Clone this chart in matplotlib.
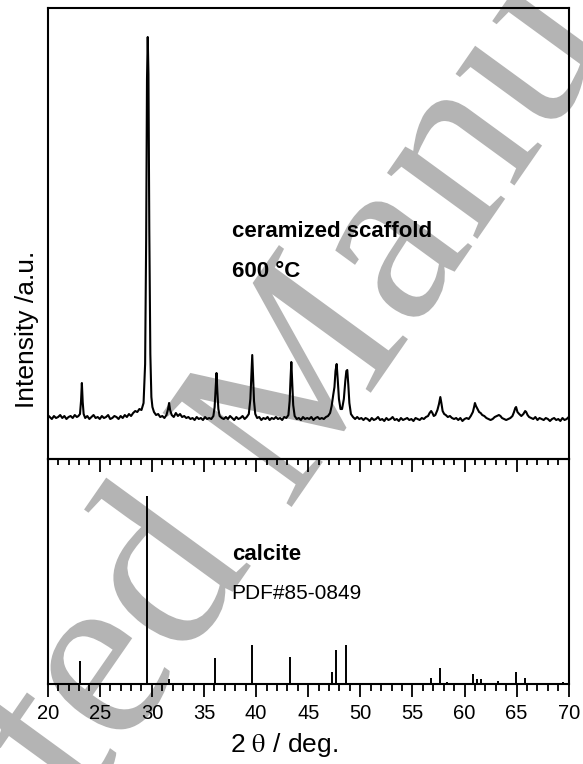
import matplotlib
matplotlib.use("Agg")
from matplotlib import pyplot as plt
from matplotlib import font_manager
from matplotlib.ticker import MultipleLocator
from matplotlib.textpath import TextPath
from matplotlib.patches import PathPatch
from matplotlib.font_manager import FontProperties
from matplotlib.transforms import Affine2D, IdentityTransform

plt.rcParams['font.family'] = ['Liberation Sans', 'DejaVu Sans']
plt.rcParams['mathtext.fontset'] = 'stix'

# measured pattern of the ceramized scaffold (2 theta, counts in a.u.)
two_theta = [
    20.0, 20.2, 20.4, 20.6, 20.8, 21.0, 21.2, 21.4, 21.6, 21.8, 22.0, 22.2, 22.4, 22.6, 22.8,
    22.95, 23.1, 23.2, 23.28, 23.36, 23.45, 23.6,
    23.8, 24.0, 24.2, 24.4, 24.6, 24.8, 25.0, 25.2, 25.4, 25.6, 25.8, 26.0, 26.2, 26.4, 26.6,
    26.8, 27.0, 27.2, 27.4, 27.6, 27.8, 28.0, 28.2,
    28.4, 28.6, 28.8, 29.0, 29.2, 29.35, 29.45, 29.53, 29.6, 29.67, 29.75, 29.85, 29.95, 30.05,
    30.2, 30.4, 30.6, 30.8, 31.0, 31.2, 31.4, 31.55, 31.65, 31.75, 31.9, 32.1, 32.3, 32.5,
    32.7, 32.9, 33.1, 33.3, 33.5, 33.7, 33.9, 34.1, 34.3, 34.5, 34.7, 34.9, 35.1, 35.3, 35.5,
    35.7, 35.9, 36.02, 36.12, 36.2, 36.28, 36.38, 36.5, 36.7, 36.9, 37.1, 37.3, 37.5, 37.7,
    37.9, 38.1, 38.3, 38.5, 38.7, 38.9, 39.1, 39.3, 39.45, 39.55, 39.63, 39.71, 39.8, 39.92,
    40.1, 40.3, 40.5, 40.7, 40.9, 41.1, 41.3, 41.5, 41.7, 41.9, 42.1, 42.3, 42.5, 42.7, 42.9,
    43.1, 43.22, 43.3, 43.38, 43.46, 43.56, 43.7, 43.9, 44.1, 44.3, 44.5, 44.7, 44.9, 45.1,
    45.3, 45.5, 45.7, 45.9, 46.1, 46.3, 46.5, 46.7, 46.9, 47.1, 47.25, 47.4, 47.52, 47.62,
    47.73, 47.83, 47.95, 48.1, 48.25, 48.42, 48.56, 48.66, 48.75, 48.85, 48.95, 49.1, 49.3,
    49.5, 49.7,
    49.9, 50.1, 50.3, 50.5, 50.7, 50.9, 51.1, 51.3, 51.5, 51.7, 51.9, 52.1, 52.3, 52.5, 52.7,
    52.9, 53.1, 53.3, 53.5, 53.7, 53.9, 54.1, 54.3, 54.5, 54.7, 54.9, 55.1, 55.3, 55.5, 55.7,
    55.9, 56.1, 56.3,
    56.5, 56.65, 56.8, 56.92, 57.05, 57.2, 57.4, 57.55, 57.68, 57.78, 57.9, 58.05, 58.2, 58.4,
    58.6, 58.8, 59.0, 59.2, 59.4, 59.6, 59.8, 60.0, 60.2, 60.4, 60.6, 60.8, 60.92, 61.0, 61.1,
    61.25, 61.4, 61.55, 61.7, 61.9, 62.1, 62.3, 62.5, 62.7, 62.9, 63.1, 63.3, 63.45, 63.6,
    63.8, 64.0, 64.2, 64.4, 64.6, 64.75, 64.87, 64.95, 65.08, 65.25, 65.45, 65.65, 65.82,
    65.92, 66.05, 66.2, 66.4, 66.6, 66.8, 67.0, 67.2, 67.4, 67.6, 67.8, 68.0, 68.2, 68.4,
    68.6, 68.8, 69.0, 69.2, 69.4, 69.6, 69.8, 70.0]
counts = [
    44, 42, 40, 43, 41, 42, 44, 41, 43, 40, 42, 43, 41, 44, 42,
    43, 45, 58, 76, 57, 45, 41,
    43, 40, 42, 44, 41, 42, 40, 43, 41, 42, 44, 40, 41, 43, 42,
    40, 43, 41, 44, 42, 45, 43, 46,
    48, 47, 50, 49, 56, 95, 220, 380, 422, 385, 230, 105, 62, 52,
    47, 44, 45, 42, 43, 41, 44, 50, 56, 49, 44, 42, 46, 43,
    45, 42, 43, 41, 42, 40, 41, 39, 42, 40, 41, 39, 42, 40, 41,
    40, 43, 52, 70, 86, 68, 50, 43, 41, 40, 42, 40, 43, 41,
    39, 42, 40, 41, 43, 40, 42, 45, 60, 84, 104, 83, 58, 45,
    41, 42, 39, 41, 40, 42, 39, 41, 40, 42, 40, 41, 39, 42, 41,
    44, 58, 79, 97, 78, 54, 43, 40, 41, 39, 42, 40, 41, 40,
    42, 39, 41, 42, 40, 41, 40, 42, 43, 46, 53, 64, 72, 88,
    95, 80, 60, 50, 50, 60, 78, 88, 89, 74, 56, 45, 42,
    40, 42,
    40, 41, 39, 41, 40, 38, 41, 39, 40, 42, 39, 40, 38, 41, 39,
    40, 42, 39, 40, 38, 41, 39, 40, 41, 39, 40, 38, 41, 40, 39,
    41, 40, 42,
    43, 46, 48, 46, 43, 44, 49, 55, 62, 56, 48, 45, 44, 42,
    43, 41, 40, 41, 39, 41, 38, 40, 41, 40, 43, 47, 52, 56, 53,
    50, 47, 46, 44, 43, 41, 40, 39, 40, 42, 43, 44, 43, 41,
    40, 39, 40, 41, 43, 47, 51, 52, 47, 45, 43, 45, 48,
    47, 44, 42, 41, 40, 42, 39, 41, 40, 39, 41, 40, 38, 40,
    41, 39, 40, 38, 41, 39, 40, 42]

# calcite reference lines, PDF#85-0849
pdf_pos = [23.09, 29.5, 31.6, 36.1, 39.57, 43.28, 47.27, 47.67, 48.67, 56.77,
           57.62, 58.3, 60.85, 61.22, 61.58, 63.23, 64.93, 65.85, 69.42]
pdf_int = [23, 188, 5, 26, 39, 27, 12, 34, 39, 6,
           16, 2, 10, 5, 5, 3, 12, 6, 2]

fig = plt.figure(figsize=(5.83, 7.64), dpi=100)
fig.patch.set_facecolor('white')

# "Accepted Manuscript" watermark, a Times-like serif drawn as a path behind the axes
try:
    serif_file = font_manager.findfont(FontProperties(family='Liberation Serif'),
                                       fallback_to_default=False)
except ValueError:
    serif_file = font_manager.findfont(FontProperties(family='DejaVu Serif'))
wm = TextPath((0, 0), 'Accepted Manuscript', size=228,
              prop=FontProperties(fname=serif_file))
wm_tr = Affine2D().rotate_deg(54.6).scale(1.06, 1.087).translate(-276, -562)
fig.add_artist(PathPatch(wm_tr.transform_path(wm), facecolor='#b4b4b4',
                         edgecolor='none', transform=IdentityTransform(), zorder=-5))

ax1 = fig.add_axes([0.0818, 0.3992, 0.8937, 0.5903])
ax2 = fig.add_axes([0.0818, 0.1047, 0.8937, 0.2945])

for ax in (ax1, ax2):
    ax.set_facecolor('none')
    ax.set_xlim(20, 70)
    ax.set_yticks([])
    ax.xaxis.set_major_locator(MultipleLocator(5))
    ax.xaxis.set_minor_locator(MultipleLocator(1))
    for sp in ax.spines.values():
        sp.set_linewidth(1.5)

ax1.plot(two_theta, counts, color='black', lw=1.5)
ax1.set_ylim(0, 451)
# ticks of the upper panel hang down into the lower panel
ax1.tick_params(axis='x', which='both', direction='out', width=1.3, labelbottom=False)
ax1.tick_params(axis='x', which='major', length=9.4)
ax1.tick_params(axis='x', which='minor', length=4.5)

ax2.vlines(pdf_pos, 0, pdf_int, color='black', lw=1.4)
ax2.set_ylim(0, 225)
ax2.tick_params(axis='x', which='both', direction='out', width=1.3, labelsize=14.5, pad=5)
ax2.tick_params(axis='x', which='major', length=9.4)
ax2.tick_params(axis='x', which='minor', length=5)

ax2.set_xlabel(r'2 $\mathrm{\theta}$ / deg.', fontsize=19)
ax2.xaxis.set_label_coords(0.4535, -0.21)
fig.text(0.0463, 0.5694, 'Intensity /a.u.', rotation=90, fontsize=19,
         ha='center', va='center')

ax1.text(231.7 / 583, 1 - 237.3 / 764, 'ceramized scaffold', transform=fig.transFigure,
         fontsize=16, fontweight='bold', va='baseline')
ax1.text(231.7 / 583, 1 - 276.7 / 764, '600 °C', transform=fig.transFigure,
         fontsize=16, fontweight='bold', va='baseline')
ax2.text(231.7 / 583, 1 - 560 / 764, 'calcite', transform=fig.transFigure,
         fontsize=16, fontweight='bold', va='baseline')
ax2.text(231.7 / 583, 1 - 599 / 764, 'PDF#85-0849', transform=fig.transFigure,
         fontsize=15, va='baseline')

fig.savefig('out.png', dpi=100)
